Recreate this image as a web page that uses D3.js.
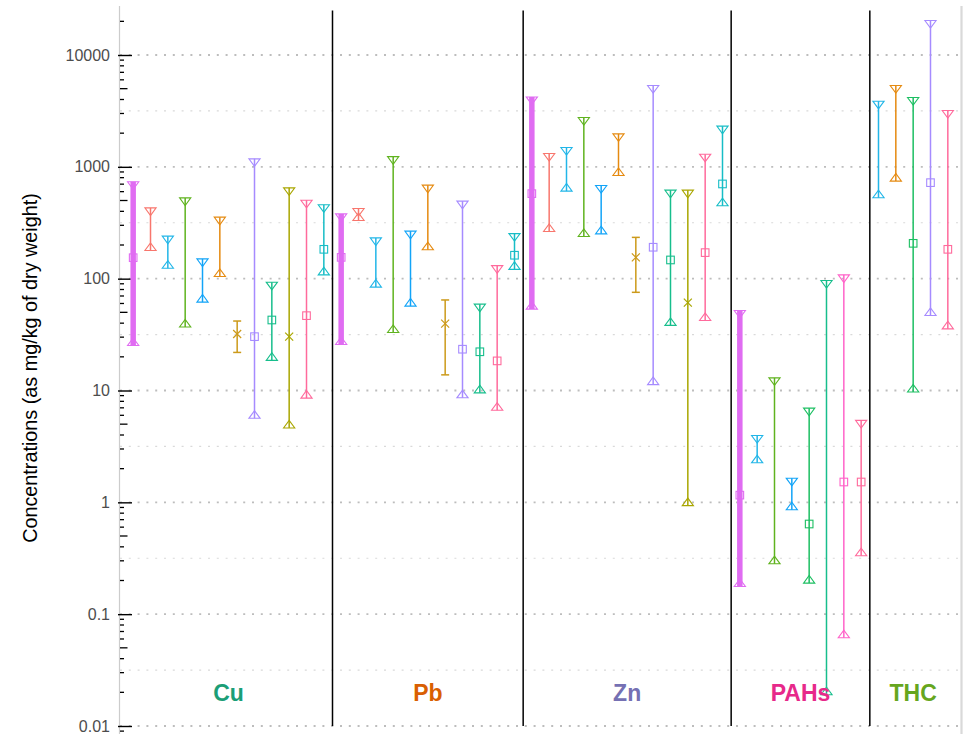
<!DOCTYPE html>
<html>
<head>
<meta charset="utf-8">
<script src="https://cdn.jsdelivr.net/npm/d3@7"></script>
<style>
body { margin: 0; background: #fff; }
text { font-family: "Liberation Sans", Arial, sans-serif; }
</style>
</head>
<body>
<div id="chart"></div>
<script>

//////////////////////////////////////////////////////////////////////////////
// Data (mg/kg dry weight): [series, min, central value, max]

var panels = ["Cu", "Pb", "Zn", "PAHs", "THC"];
var panelColors = ["#1B9E77", "#D95F02", "#7570B3", "#E7298A", "#66A61E"];

var seriesKeys   = ["A", "B", "C", "D", "E", "F", "G", "H", "I", "J", "K", "L", "M", "N"];
var seriesColors = ["#E06CF2", "#F8766D", "#22B6E8", "#5FB31E", "#12A4F8", "#E58A10",
                    "#CC9A1A", "#A68BFF", "#17BE8C", "#A9A600", "#FF6A9C", "#17BDC6",
                    "#1CBF62", "#FF63C9"];

var cuData = [
    ["A", 27.3, 154, 680],
    ["B", 193, null, 397],
    ["C", 134, null, 222],
    ["D", 40, null, 488],
    ["E", 66.7, null, 139],
    ["F", 113, null, 328],
    ["G", 21.9, 32, 41.8],
    ["H", 6.1, 30.3, 1090],
    ["I", 20.1, 42.7, 86],
    ["J", 5.0, 30.3, 600],
    ["K", 9.25, 46.7, 465],
    ["L", 117, 183, 423]
];

var pbData = [
    ["A", 27.9, 155, 351],
    ["B", 358, null, 392],
    ["C", 90.9, null, 214],
    ["D", 35.7, null, 1140],
    ["E", 61.5, null, 246],
    ["F", 196, null, 634],
    ["G", 13.8, 39.6, 64.5],
    ["H", 9.3, 23.4, 456],
    ["I", 10.3, 22.2, 54.7],
    ["K", 7.2, 18.4, 121],
    ["L", 131, 162, 234]
];

var znData = [
    ["A", 57.8, 576, 3900],
    ["B", 286, null, 1217],
    ["C", 656, null, 1377],
    ["D", 258, null, 2554],
    ["E", 272, null, 629],
    ["F", 906, null, 1824],
    ["G", 75.5, 155, 234],
    ["H", 12.2, 191, 4930],
    ["I", 41.3, 147, 572],
    ["J", 1.01, 61, 572],
    ["K", 45.7, 171, 1200],
    ["L", 485, 703, 2136]
];

var pahData = [
    ["A", 0.191, 1.16, 48],
    ["C", 2.44, null, 3.66],
    ["D", 0.305, null, 12],
    ["E", 0.927, null, 1.52],
    ["M", 0.205, 0.64, 6.43],
    ["I", 0.0206, null, 89],
    ["N", 0.0665, 1.52, 100],
    ["K", 0.36, 1.52, 5.0]
];

var thcData = [
    ["C", 572, null, 3573],
    ["F", 806, null, 4935],
    ["M", 10.5, 207, 3856],
    ["H", 50.7, 722, 18800],
    ["K", 38.5, 183, 2951]
];

var decades = [0.01, 0.1, 1, 10, 100, 1000, 10000];

//////////////////////////////////////////////////////////////////////////////
// Layout

var width = 973, height = 734;
var plotLeft = 120, plotRight = 961, plotTop = 6, plotBottom = 734;

var panelData = [cuData, pbData, znData, pahData, thcData];
var rows = [];
panelData.forEach(function(list, i) {
    list.forEach(function(d, j) {
        rows.push({panel: i, key: panels[i] + j, s: d[0], lo: d[1], mid: d[2], hi: d[3]});
    });
});

var color = d3.scaleOrdinal().domain(seriesKeys).range(seriesColors);

var x = d3.scalePoint()
    .domain(rows.map(function(d) { return d.key; }))
    .range([plotLeft, plotRight])
    .padding(0.76);

var y = d3.scaleLog().domain([0.01, 10000]).range([726, 55]);

var svg = d3.select("#chart").append("svg")
    .attr("width", width)
    .attr("height", height);

// gridlines
var halfDecades = [-2, -1, 0, 1, 2, 3].map(function(n) { return Math.pow(10, n + 0.5); });

svg.append("g").selectAll("line")
    .data(halfDecades)
    .enter().append("line")
    .attr("x1", plotLeft).attr("x2", plotRight)
    .attr("y1", y).attr("y2", y)
    .attr("stroke", "#d9d9d9")
    .attr("stroke-width", 1.1)
    .attr("stroke-dasharray", "2,6.8");

svg.append("g").selectAll("line")
    .data(decades)
    .enter().append("line")
    .attr("x1", plotLeft).attr("x2", plotRight)
    .attr("y1", y).attr("y2", y)
    .attr("stroke", "#bdbdbd")
    .attr("stroke-width", 1.8)
    .attr("stroke-dasharray", "2,6.8");

// axis line and right border
svg.append("line")
    .attr("x1", plotLeft - 0.5).attr("x2", plotLeft - 0.5)
    .attr("y1", plotTop).attr("y2", plotBottom)
    .attr("stroke", "#cccccc").attr("stroke-width", 1.2);

svg.append("line")
    .attr("x1", plotRight + 0.5).attr("x2", plotRight + 0.5)
    .attr("y1", plotTop).attr("y2", plotBottom)
    .attr("stroke", "#d9d9d9").attr("stroke-width", 2.2);

// panel separators
var firsts = [], lasts = [];
panels.forEach(function(p, i) {
    var keys = rows.filter(function(d) { return d.panel === i; }).map(function(d) { return d.key; });
    firsts.push(x(keys[0]));
    lasts.push(x(keys[keys.length - 1]));
});

var seps = d3.range(1, panels.length).map(function(i) { return (lasts[i - 1] + firsts[i]) / 2; });

svg.append("g").selectAll("line")
    .data(seps)
    .enter().append("line")
    .attr("x1", function(d) { return d; }).attr("x2", function(d) { return d; })
    .attr("y1", y(0.01)).attr("y2", y(25000))
    .attr("stroke", "#000").attr("stroke-width", 1.5);

// y axis: labels + long ticks
var yAxis = d3.axisLeft(y)
    .tickValues(decades)
    .tickSize(14)
    .tickPadding(8)
    .tickFormat(function(d) { return String(d); });

var axisG = svg.append("g")
    .attr("transform", "translate(132,0)")
    .call(yAxis);
axisG.select(".domain").remove();
axisG.selectAll(".tick line").attr("stroke", "#000").attr("stroke-width", 1.4);
axisG.selectAll(".tick text")
    .attr("fill", "#4d4d4d")
    .style("font-size", "16px")
    .style("font-family", "'Liberation Sans', Arial, sans-serif");

// log minor ticks
var minor = [];
for (var n = -3; n <= 4; ++n) {
    for (var k = 2; k <= 9; ++k) {
        var v = k * Math.pow(10, n);
        if (y(v) > plotTop && y(v) < plotBottom - 1) minor.push({v: v, mid: k === 5});
    }
}
svg.append("g").selectAll("line")
    .data(minor)
    .enter().append("line")
    .attr("x1", plotLeft)
    .attr("x2", function(d) { return plotLeft + (d.mid ? 7.5 : 4); })
    .attr("y1", function(d) { return y(d.v); })
    .attr("y2", function(d) { return y(d.v); })
    .attr("stroke", "#000").attr("stroke-width", 1.3);

// y title
svg.append("text")
    .attr("transform", "translate(36.5,368) rotate(-90)")
    .attr("text-anchor", "middle")
    .style("font-size", "19.8px")
    .attr("fill", "#000")
    .text("Concentrations (as mg/kg of dry weight)");

//////////////////////////////////////////////////////////////////////////////
// Ranges

var triW = 5.6, triH = 3.8;

function triDown(cx, cy) {
    return "M" + (cx - triW) + "," + (cy - triH) + "L" + (cx + triW) + "," + (cy - triH) +
           "L" + cx + "," + (cy + triH) + "Z";
}
function triUp(cx, cy) {
    return "M" + (cx - triW) + "," + (cy + triH) + "L" + (cx + triW) + "," + (cy + triH) +
           "L" + cx + "," + (cy - triH) + "Z";
}

var bars = svg.append("g").selectAll("g")
    .data(rows)
    .enter().append("g")
    .attr("transform", function(d) { return "translate(" + x(d.key) + ",0)"; });

// the range line runs to the flat edge of the triangles (or to the caps for G)
bars.append("line")
    .attr("x1", 0).attr("x2", 0)
    .attr("y1", function(d) { return y(d.lo) + (d.s === "G" ? 0 : triH); })
    .attr("y2", function(d) { return y(d.hi) - (d.s === "G" ? 0 : triH); })
    .attr("stroke", function(d) { return color(d.s); })
    .attr("stroke-width", function(d) { return d.s === "A" ? 5.5 : 1.5; });

// error-bar caps for the G series
var capped = bars.filter(function(d) { return d.s === "G"; });
["lo", "hi"].forEach(function(end) {
    capped.append("line")
        .attr("x1", -4).attr("x2", 4)
        .attr("y1", function(d) { return y(d[end]); })
        .attr("y2", function(d) { return y(d[end]); })
        .attr("stroke", function(d) { return color(d.s); })
        .attr("stroke-width", 1.5);
});

// triangles for the others
var tri = bars.filter(function(d) { return d.s !== "G"; });
tri.append("path")
    .attr("d", function(d) { return triDown(0, y(d.hi)); })
    .attr("fill", "none")
    .attr("stroke", function(d) { return color(d.s); })
    .attr("stroke-width", 1.1);
tri.append("path")
    .attr("d", function(d) { return triUp(0, y(d.lo)); })
    .attr("fill", "none")
    .attr("stroke", function(d) { return color(d.s); })
    .attr("stroke-width", 1.1);

// central values: cross for G and J, square otherwise
var withMid = bars.filter(function(d) { return d.mid !== null; });
withMid.filter(function(d) { return d.s === "G" || d.s === "J"; })
    .append("path")
    .attr("d", function(d) {
        var c = y(d.mid);
        return "M-4," + (c - 4) + "L4," + (c + 4) + "M-4," + (c + 4) + "L4," + (c - 4);
    })
    .attr("stroke", function(d) { return color(d.s); })
    .attr("stroke-width", 1.2);
withMid.filter(function(d) { return d.s !== "G" && d.s !== "J"; })
    .append("rect")
    .attr("x", -3.8).attr("width", 7.6)
    .attr("y", function(d) { return y(d.mid) - 3.8; })
    .attr("height", 7.6)
    .attr("fill", "none")
    .attr("stroke", function(d) { return color(d.s); })
    .attr("stroke-width", 1.1);

// panel labels
svg.append("g").selectAll("text")
    .data(panels)
    .enter().append("text")
    .attr("x", function(d, i) { return (firsts[i] + lasts[i]) / 2; })
    .attr("y", 701)
    .attr("text-anchor", "middle")
    .style("font-size", "23px")
    .style("font-weight", "bold")
    .attr("fill", function(d, i) { return panelColors[i]; })
    .text(function(d) { return d; });

</script>
</body>
</html>
